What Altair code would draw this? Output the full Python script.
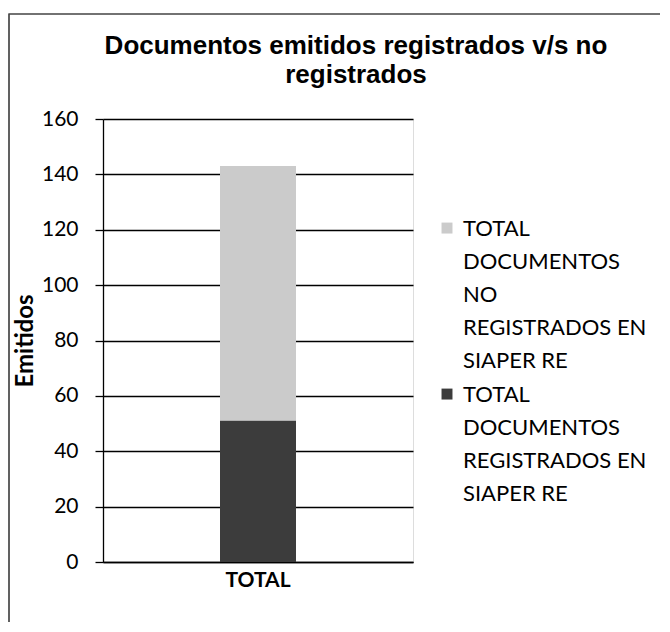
import altair as alt
import pandas as pd

categoria = ["TOTAL", "TOTAL"]
series = [
    "TOTAL|DOCUMENTOS|NO|REGISTRADOS EN|SIAPER RE",
    "TOTAL|DOCUMENTOS|REGISTRADOS EN|SIAPER RE",
]
valores = [92, 51]
orden = [1, 0]
colores = ["#cbcbcb", "#3c3c3c"]

df = pd.DataFrame({"cat": categoria, "serie": series, "valor": valores, "orden": orden})

bars = alt.Chart(df).mark_bar(size=76).encode(
    x=alt.X("cat:N", title=None,
            axis=alt.Axis(labelAngle=0, labelFont="Lato", labelFontSize=21, labelFontWeight="bold",
                          labelColor="black", ticks=False, domain=True, domainColor="black",
                          domainWidth=1.5, labelPadding=7)),
    y=alt.Y("valor:Q", title="Emitidos", stack="zero",
            scale=alt.Scale(domain=[0, 160]),
            axis=alt.Axis(values=[0, 20, 40, 60, 80, 100, 120, 140, 160], grid=True,
                          gridColor="black", gridWidth=1.3, tickColor="black", tickSize=8,
                          tickWidth=1.3, domainColor="black", domainWidth=1.3,
                          labelFont="Lato", labelFontSize=21, labelColor="black", labelPadding=17,
                          titleFont="Lato", titleFontSize=24, titleFontWeight="bold",
                          titleColor="black", titlePadding=4)),
    color=alt.Color("serie:N", scale=alt.Scale(domain=series, range=colores),
                    legend=alt.Legend(title=None, orient="none", legendX=333, legendY=106,
                                      labelExpr="split(datum.label, '|')",
                                      labelFont="Lato", labelFontSize=22, labelColor="black",
                                      labelLimit=300, labelBaseline="alphabetic", labelOffset=5,
                                      symbolType="M-1,-2.45H1V-0.45H-1Z", symbolSize=120,
                                      symbolStrokeWidth=0, rowPadding=12)),
    order=alt.Order("orden:Q"),
)

borde = alt.Chart(df).mark_rect(fill=None, stroke="#444", strokeWidth=1.2).encode(
    x=alt.value(-94), x2=alt.value(620), y=alt.value(-105), y2=alt.value(620)
)

chart = alt.layer(borde, bars).properties(
    width=310, height=443,
    autosize=alt.AutoSizeParams(type="none"),
    padding={"left": 95, "top": 111, "right": 247, "bottom": 60},
    title=alt.TitleParams(["Documentos emitidos registrados v/s no", "registrados"],
                          font="Liberation Sans", fontSize=26, fontWeight="bold", color="black",
                          anchor="middle", frame="group", dx=98, dy=107, offset=32, lineHeight=29),
).configure_view(stroke=None).configure(style={"guide-label": {"lineHeight": 33}})

chart.save("out.html", embed_options={"renderer": "svg", "actions": False})
